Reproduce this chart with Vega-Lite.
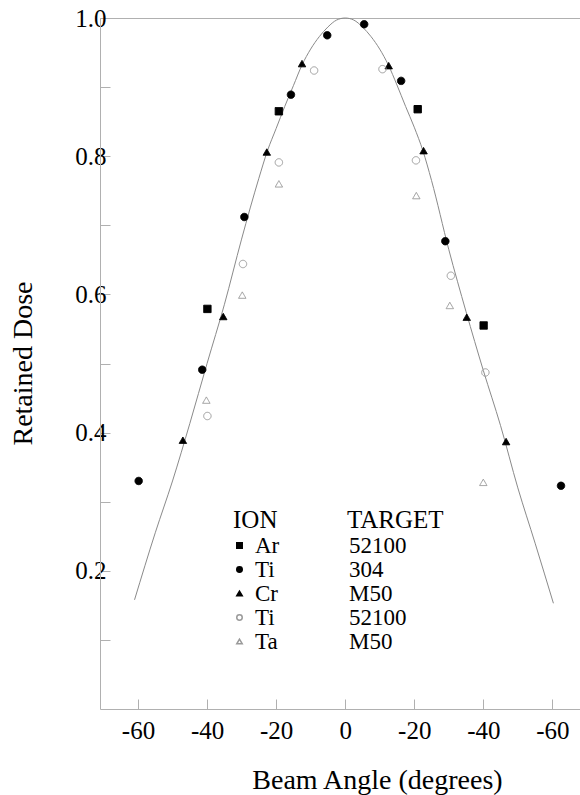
{
  "$schema": "https://vega.github.io/schema/vega-lite/v6.json",
  "width": 480,
  "height": 691,
  "autosize": "none",
  "padding": {"left": 100, "top": 18, "right": 0, "bottom": 86},
  "background": "white",
  "config": {
    "font": "Liberation Serif",
    "view": {"stroke": null},
    "axis": {
      "grid": false, "domainColor": "#b0b0b0", "tickColor": "#b0b0b0",
      "labelFont": "Liberation Serif", "titleFont": "Liberation Serif",
      "labelColor": "black", "titleColor": "black", "titleFontWeight": "normal"
    },
    "legend": {"padding": 0, "labelFont": "Liberation Serif", "titleFont": "Liberation Serif"}
  },
  "datasets": {
    "curve": [
      {"angle": -61, "dose": 0.158},
      {"angle": -55, "dose": 0.255},
      {"angle": -50, "dose": 0.33},
      {"angle": -45, "dose": 0.413},
      {"angle": -40, "dose": 0.5},
      {"angle": -35, "dose": 0.585},
      {"angle": -30, "dose": 0.68},
      {"angle": -25, "dose": 0.768},
      {"angle": -22.5, "dose": 0.808},
      {"angle": -20, "dose": 0.84},
      {"angle": -17.5, "dose": 0.872},
      {"angle": -15, "dose": 0.902},
      {"angle": -12.5, "dose": 0.932},
      {"angle": -10, "dose": 0.955},
      {"angle": -7.5, "dose": 0.973},
      {"angle": -5, "dose": 0.987},
      {"angle": -2.5, "dose": 0.997},
      {"angle": 0, "dose": 1.0},
      {"angle": 2.5, "dose": 0.997},
      {"angle": 5, "dose": 0.987},
      {"angle": 7.5, "dose": 0.973},
      {"angle": 10, "dose": 0.955},
      {"angle": 12.5, "dose": 0.932},
      {"angle": 15, "dose": 0.903},
      {"angle": 17.5, "dose": 0.872},
      {"angle": 20, "dose": 0.842},
      {"angle": 22.5, "dose": 0.808},
      {"angle": 25, "dose": 0.765},
      {"angle": 30, "dose": 0.665},
      {"angle": 35, "dose": 0.575},
      {"angle": 40, "dose": 0.49},
      {"angle": 45, "dose": 0.41},
      {"angle": 50, "dose": 0.32},
      {"angle": 55, "dose": 0.24},
      {"angle": 60.3, "dose": 0.153}
    ],
    "points": [
      {"angle": -39.9, "dose": 0.579, "series": "Ar on 52100"},
      {"angle": -19.2, "dose": 0.865, "series": "Ar on 52100"},
      {"angle": 21.0, "dose": 0.868, "series": "Ar on 52100"},
      {"angle": 40.1, "dose": 0.555, "series": "Ar on 52100"},
      {"angle": -59.8, "dose": 0.33, "series": "Ti on 304"},
      {"angle": -41.4, "dose": 0.491, "series": "Ti on 304"},
      {"angle": -29.2, "dose": 0.712, "series": "Ti on 304"},
      {"angle": -15.7, "dose": 0.889, "series": "Ti on 304"},
      {"angle": -5.2, "dose": 0.975, "series": "Ti on 304"},
      {"angle": 5.5, "dose": 0.991, "series": "Ti on 304"},
      {"angle": 16.2, "dose": 0.909, "series": "Ti on 304"},
      {"angle": 29.0, "dose": 0.677, "series": "Ti on 304"},
      {"angle": 62.5, "dose": 0.323, "series": "Ti on 304"},
      {"angle": -47.0, "dose": 0.389, "series": "Cr on M50"},
      {"angle": -35.3, "dose": 0.568, "series": "Cr on M50"},
      {"angle": -22.7, "dose": 0.806, "series": "Cr on M50"},
      {"angle": -12.5, "dose": 0.934, "series": "Cr on M50"},
      {"angle": 12.6, "dose": 0.931, "series": "Cr on M50"},
      {"angle": 22.7, "dose": 0.808, "series": "Cr on M50"},
      {"angle": 35.2, "dose": 0.567, "series": "Cr on M50"},
      {"angle": 46.6, "dose": 0.387, "series": "Cr on M50"},
      {"angle": -39.9, "dose": 0.424, "series": "Ti on 52100"},
      {"angle": -29.6, "dose": 0.644, "series": "Ti on 52100"},
      {"angle": -19.2, "dose": 0.791, "series": "Ti on 52100"},
      {"angle": -9.0, "dose": 0.924, "series": "Ti on 52100"},
      {"angle": 10.8, "dose": 0.926, "series": "Ti on 52100"},
      {"angle": 20.5, "dose": 0.794, "series": "Ti on 52100"},
      {"angle": 30.6, "dose": 0.627, "series": "Ti on 52100"},
      {"angle": 40.6, "dose": 0.487, "series": "Ti on 52100"},
      {"angle": -40.2, "dose": 0.447, "series": "Ta on M50"},
      {"angle": -29.8, "dose": 0.599, "series": "Ta on M50"},
      {"angle": -19.2, "dose": 0.76, "series": "Ta on M50"},
      {"angle": 20.6, "dose": 0.743, "series": "Ta on M50"},
      {"angle": 30.3, "dose": 0.584, "series": "Ta on M50"},
      {"angle": 40.0, "dose": 0.328, "series": "Ta on M50"}
    ]
  },
  "layer": [
    {
      "data": {"name": "curve"},
      "mark": {"type": "line", "interpolate": "monotone", "stroke": "#8a8a8a", "strokeWidth": 1},
      "encoding": {
        "x": {
          "field": "angle", "type": "quantitative",
          "scale": {"domain": [-71, 68], "nice": false, "zero": false},
          "axis": {
            "orient": "bottom",
            "values": [-60, -40, -20, 0, 20, 40, 60],
            "labelExpr": "datum.value == 0 ? '0' : '-' + format(abs(datum.value), 'd')",
            "tickSize": -10,
            "labelPadding": 19,
            "labelFontSize": 25,
            "title": "Beam Angle (degrees)",
            "titleFontSize": 28,
            "titleX": 277,
            "titleY": 71,
            "titleAlign": "center",
            "titleBaseline": "middle"
          }
        },
        "y": {
          "field": "dose", "type": "quantitative",
          "scale": {"domain": [0, 1], "nice": false},
          "axis": {
            "values": [0.1, 0.2, 0.3, 0.4, 0.5, 0.6, 0.7, 0.8, 0.9, 1.0],
            "labelExpr": "round(datum.value * 10) % 2 == 0 ? format(datum.value, '.1f') : ''",
            "tickSize": -10,
            "labelPadding": 4,
            "labelFontSize": 25,
            "title": "Retained Dose",
            "titleFontSize": 28,
            "titleX": -77,
            "titleY": 345,
            "titleAlign": "center",
            "titleBaseline": "middle"
          }
        }
      }
    },
    {
      "data": {"name": "points"},
      "mark": {"type": "point", "size": 55, "strokeWidth": 1, "opacity": 1},
      "encoding": {
        "x": {
          "field": "angle", "type": "quantitative",
          "axis": {"orient": "top", "labels": false, "ticks": false, "title": null, "domain": true}
        },
        "y": {"field": "dose", "type": "quantitative"},
        "shape": {
          "field": "series", "type": "nominal",
          "scale": {
            "domain": ["Ar on 52100", "Ti on 304", "Cr on M50", "Ti on 52100", "Ta on M50"],
            "range": ["square", "circle", "triangle-up", "circle", "triangle-up"]
          },
          "legend": {
            "title": "ION", "orient": "none", "legendX": 133, "legendY": 490,
            "labelExpr": "split(datum.label, ' on ')[0]",
            "titleFontSize": 25, "titleFontWeight": "normal", "titleColor": "black",
            "labelFontSize": 23, "labelColor": "black", "labelOffset": 4, "symbolOffset": -5,
            "symbolSize": 30, "rowPadding": 0, "titlePadding": 1
          }
        },
        "fill": {
          "field": "series", "type": "nominal",
          "scale": {
            "domain": ["Ar on 52100", "Ti on 304", "Cr on M50", "Ti on 52100", "Ta on M50"],
            "range": ["black", "black", "black", "transparent", "transparent"]
          },
          "legend": {
            "title": "ION", "orient": "none", "legendX": 133, "legendY": 490,
            "labelExpr": "split(datum.label, ' on ')[0]"
          }
        },
        "stroke": {
          "field": "series", "type": "nominal",
          "scale": {
            "domain": ["Ar on 52100", "Ti on 304", "Cr on M50", "Ti on 52100", "Ta on M50"],
            "range": ["black", "black", "black", "#9a9a9a", "#9a9a9a"]
          },
          "legend": {
            "title": "ION", "orient": "none", "legendX": 133, "legendY": 490,
            "labelExpr": "split(datum.label, ' on ')[0]"
          }
        },
        "strokeDash": {
          "field": "series", "type": "nominal",
          "sort": ["Ar on 52100", "Ti on 304", "Cr on M50", "Ti on 52100", "Ta on M50"],
          "scale": {"range": [[1, 0], [1, 0], [1, 0], [1, 0], [1, 0]]},
          "legend": {
            "title": "TARGET", "orient": "none", "legendX": 247, "legendY": 490,
            "labelExpr": "split(datum.label, ' on ')[1]",
            "titleFontSize": 25, "titleFontWeight": "normal", "titleColor": "black",
            "labelFontSize": 23, "labelColor": "black", "labelOffset": -21,
            "symbolOpacity": 0, "symbolSize": 0, "symbolStrokeWidth": 0,
            "rowPadding": 0, "titlePadding": 1
          }
        }
      }
    }
  ]
}
